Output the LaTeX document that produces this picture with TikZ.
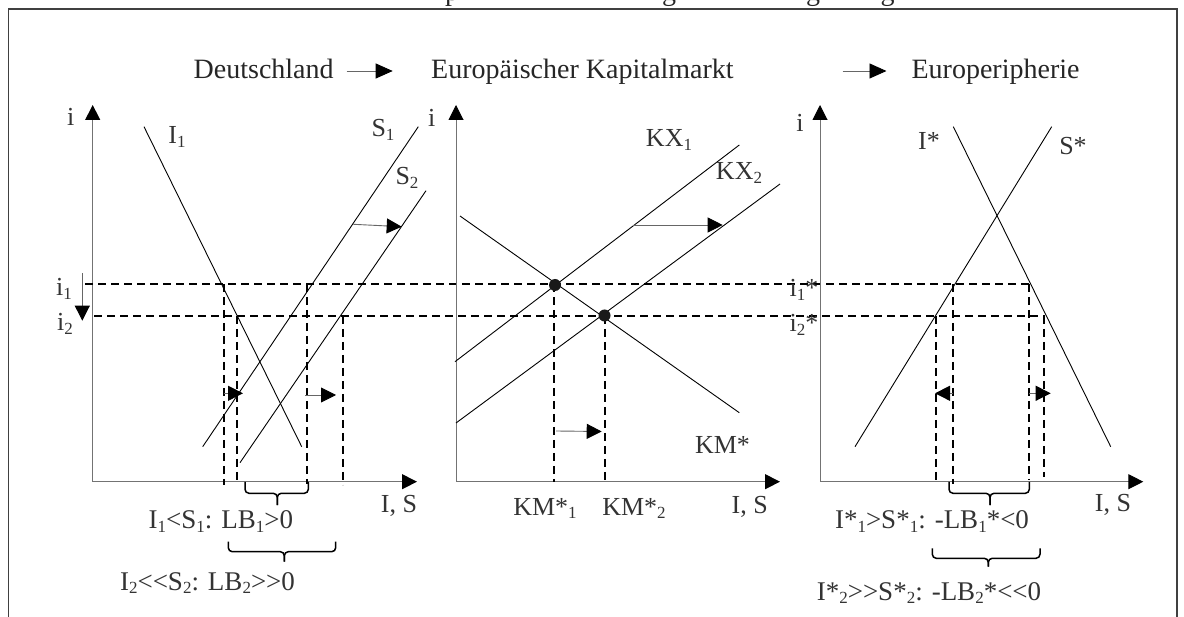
\documentclass[tikz,border=0pt]{standalone}
\usepackage{fontspec}
\setmainfont{Liberation Serif}
\usetikzlibrary{arrows.meta}
\newcommand\sbs[1]{\raisebox{-0.32ex}{\fontsize{17}{18}\selectfont #1}}
\newcommand\mybrc[6]{%
  \draw[brc] (#1,#3) |- (#5,#4) -- (#5,#6);
  \draw[brc] (#2,#3) |- (#5,#4) -- (#5,#6);}
\tikzset{
  head/.style={font=\fontsize{28}{30}\selectfont, text=black!85, inner sep=0pt, anchor=base west},
  titl/.style={font=\fontsize{28}{30}\selectfont, text=black!85, inner sep=0pt, anchor=base},
  lbl/.style={font=\fontsize{26}{28}\selectfont, text=black!80, inner sep=0pt, anchor=base},
  blbl/.style={font=\fontsize{27}{29}\selectfont, text=black!80, inner sep=0pt, anchor=base},
  frame/.style={line width=1.8pt, black!75},
  curve/.style={line width=0.9pt, black},
  axis/.style={line width=1pt, black!55, -{Triangle[length=15pt,width=15pt,color=black]}},
  dline/.style={line width=1.9pt, black, dash pattern=on 8pt off 5pt},
  sarr/.style={line width=0.9pt, black!60, -{Triangle[length=15pt,width=15pt,color=black]}},
  harr/.style={line width=0.9pt, black!60, -{Triangle[length=17pt,width=15pt,color=black]}},
  brc/.style={line width=1.5pt, black, rounded corners=4pt},
  dot/.style={circle, fill=black!90, minimum size=12pt, inner sep=0pt}
}
\begin{document}
\begin{tikzpicture}[x=1pt,y=-1pt]
\useasboundingbox (0,0) rectangle (1184,617);
\clip (0,0) rectangle (1184,617);
% cut-off title
\node[titl] (tp) at (452,0.5) {p};
\node[titl] (tg1) at (669,0.5) {g};
\node[titl] (tg2) at (813,0.5) {g};
\node[titl] (tg3) at (887.5,0.5) {g};
% frame
\draw[frame] (8.5,660) -- (8.5,9) -- (1177,9) -- (1177,660);
% headings
\node[head] (de) at (193.5,78.5) {Deutschland};
\node[head] (eu) at (431,78.5) {Europäischer Kapitalmarkt};
\node[head] (ep) at (911.4,78.5) {Europeripherie};
\coordinate (h1s) at (346.7,71); \coordinate (h1e) at (392.7,71);
\coordinate (h2s) at (842.5,71); \coordinate (h2e) at (886.5,71);
\draw[harr] (h1s) -- (h1e);
\draw[harr] (h2s) -- (h2e);

% ===== left panel =====
\coordinate (O1) at (92.7,481.7);
\coordinate (Y1) at (92.7,105);
\coordinate (X1) at (417,481.7);
\draw[axis] (O1) -- (Y1);
\draw[axis] (O1) -- (X1);
\node[lbl] (yl1) at (70.7,126) {i};
\node[lbl] (xl1) at (399,512.7) {I, S};
\draw[curve] (144,126.7) -- (301.7,446.7);
\draw[curve] (418.3,126.7) -- (202.7,446.7);
\draw[curve] (426,190.7) -- (240,462.7);
\node[lbl] (lI1) at (177,143.3) {I\sbs{1}};
\node[lbl] (lS1) at (383,136.7) {S\sbs{1}};
\node[lbl] (lS2) at (407,185) {S\sbs{2}};
\coordinate (sa1) at (353.3,224.3); \coordinate (sa2) at (401.7,226.7);
\draw[sarr] (sa1) -- (sa2);
\node[lbl] (li1) at (64,296) {i\sbs{1}};
\node[lbl] (li2) at (65,331) {i\sbs{2}};
\coordinate (da1) at (82.3,273.3); \coordinate (da2) at (82.3,320.7);
\draw[sarr] (da1) -- (da2);
% interest lines
\draw[dline] (85,284) -- (1030,284);
\draw[dline] (94,316) -- (1045,316);
% verticals left
\draw[dline] (224,284) -- (224,485);
\draw[dline] (237,316) -- (237,480);
\draw[dline] (307,284) -- (307,484);
\draw[dline] (343,316) -- (343,485);
\coordinate (la1) at (224,393.3); \coordinate (la2) at (243,393.3);
\draw[sarr] (la1) -- (la2);
\coordinate (lb1) at (305,395); \coordinate (lb2) at (336,395);
\draw[sarr] (lb1) -- (lb2);
\mybrc{245}{308.3}{482}{493.3}{277.3}{505}
\node[blbl] (lt1) at (220.8,528.3) {I\sbs{1}<S\sbs{1}: LB\sbs{1}>0};
\mybrc{228.3}{335.7}{541.7}{551.7}{284.3}{561.7}
\node[blbl] (lt2) at (207.5,590) {I\sbs{2}<{}<S\sbs{2}: LB\sbs{2}>{}>0};

% ===== middle panel =====
\coordinate (O2) at (456,481.7);
\coordinate (Y2) at (456,105);
\coordinate (X2) at (780,481.7);
\draw[axis] (O2) -- (Y2);
\draw[axis] (O2) -- (X2);
\node[lbl] (yl2) at (431.7,126.7) {i};
\node[lbl] (xl2) at (749.7,514) {I, S};
\draw[curve] (460,216) -- (739.3,412.7);
\draw[curve] (455,361.7) -- (739.3,145);
\draw[curve] (456,423) -- (780,184);
\node[lbl] (kx1) at (669,146.7) {KX\sbs{1}};
\node[lbl] (kx2) at (739,180) {KX\sbs{2}};
\node[lbl] (kms) at (722.5,453.3) {KM*};
\coordinate (ma1) at (633.3,225); \coordinate (ma2) at (722.7,225);
\draw[sarr] (ma1) -- (ma2);
\draw[dline] (554,284) -- (554,481.7);
\draw[dline] (605,316) -- (605,481.7);
\node[dot] (e1) at (555,285) {};
\node[dot] (e2) at (604.5,315.5) {};
\coordinate (mb1) at (556,431); \coordinate (mb2) at (601.7,431.5);
\draw[sarr] (mb1) -- (mb2);
\node[lbl] (km1) at (545,515) {KM*\sbs{1}};
\node[lbl] (km2) at (634,515) {KM*\sbs{2}};

% ===== right panel =====
\coordinate (O3) at (820,481.7);
\coordinate (Y3) at (820,105);
\coordinate (X3) at (1143.3,481.7);
\draw[axis] (O3) -- (Y3);
\draw[axis] (O3) -- (X3);
\node[lbl] (yl3) at (800,131.7) {i};
\node[lbl] (xl3) at (1113,511.7) {I, S};
\draw[curve] (953.3,126.7) -- (1110.7,446.7);
\draw[curve] (1051.7,126.7) -- (855,446.7);
\node[lbl] (lIs) at (929,150) {I*};
\node[lbl] (lSs) at (1073,155) {S*};
\node[lbl] (ri1) at (804,297) {i\sbs{1}*};
\node[lbl] (ri2) at (804,331.5) {i\sbs{2}*};
\draw[dline] (953,284) -- (953,484);
\draw[dline] (936,316) -- (936,481.7);
\draw[dline] (1029,284) -- (1029,480);
\draw[dline] (1044,316) -- (1044,476.7);
\coordinate (ra1) at (953.3,393.3); \coordinate (ra2) at (935,393.3);
\draw[sarr] (ra1) -- (ra2);
\coordinate (rb1) at (1029.3,393.3); \coordinate (rb2) at (1050.7,393.3);
\draw[sarr] (rb1) -- (rb2);
\mybrc{949}{1029.3}{482}{493.3}{990}{505}
\node[blbl] (rt1) at (932,528.3) {I*\sbs{1}>S*\sbs{1}: -LB\sbs{1}*<0};
\mybrc{932.3}{1040}{548.3}{558.3}{988.3}{566.7}
\node[blbl] (rt2) at (929,600) {I*\sbs{2}>{}>S*\sbs{2}: -LB\sbs{2}*<{}<0};
\end{tikzpicture}
\end{document}
